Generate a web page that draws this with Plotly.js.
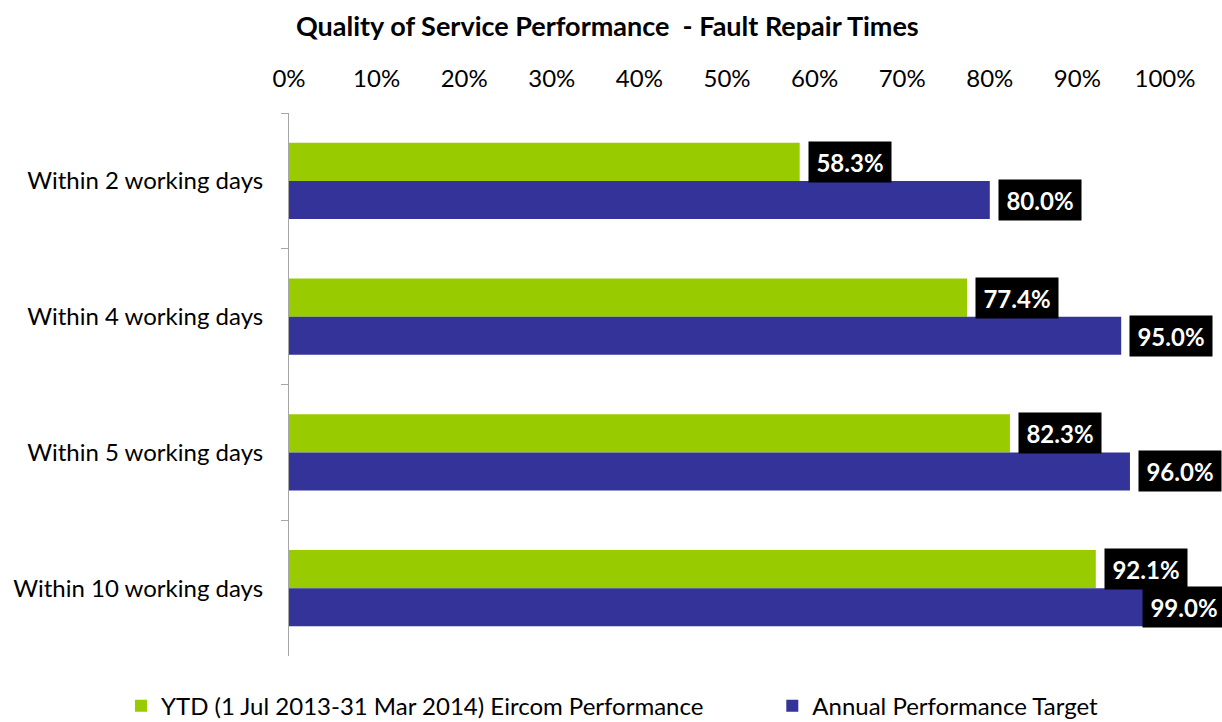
<!DOCTYPE html>
<html>
<head>
<meta charset="utf-8">
<script src="https://cdn.plot.ly/plotly-3.0.1.min.js"></script>
<style>html,body{margin:0;padding:0;background:#fff;}#chart{width:1222px;height:722px;}</style>
</head>
<body>
<div id="chart"></div>
<script>
var categories = ["Within 2 working days", "Within 4 working days", "Within 5 working days", "Within 10 working days"];
var ytdValues = [0.583, 0.774, 0.823, 0.921];
var targetValues = [0.80, 0.95, 0.96, 0.99];
var seriesNames = ["YTD (1 Jul 2013-31 Mar 2014) Eircom Performance", "Annual Performance Target"];
var tickValues = [0, 0.1, 0.2, 0.3, 0.4, 0.5, 0.6, 0.7, 0.8, 0.9, 1.0];

var FONT = "Lato, 'Open Sans', sans-serif";
var bargap = 0.44;
var barW = (1 - bargap) / 2;

var traces = [
  {type: "bar", orientation: "h", name: seriesNames[0], y: categories, x: ytdValues,
   marker: {color: "#99CC00"}, hoverinfo: "x+y", legend: "legend"},
  {type: "bar", orientation: "h", name: seriesNames[1], y: categories, x: targetValues,
   marker: {color: "#333399"}, hoverinfo: "x+y", legend: "legend2"}
];

var annotations = [];
[ytdValues, targetValues].forEach(function (vals, s) {
  vals.forEach(function (v, i) {
    annotations.push({
      x: v, y: i + (s === 0 ? -barW / 2 : barW / 2), xref: "x", yref: "y",
      text: "<b>" + (v * 100).toFixed(1) + "%</b>",
      showarrow: false, xanchor: "left", yanchor: "middle",
      xshift: v > 0.97 ? -14 : 8,
      width: 70, height: 28, align: "center",
      bgcolor: "#000000", borderpad: 6,
      font: {family: FONT, size: 24, color: "#ffffff"}
    });
  });
});

var legendFont = {family: FONT, size: 24, color: "#000"};

var layout = {
  width: 1222, height: 722,
  paper_bgcolor: "#ffffff", plot_bgcolor: "#ffffff",
  margin: {l: 289, r: 57, t: 113, b: 66},
  barmode: "group", bargap: bargap, bargroupgap: 0,
  showlegend: true,
  title: {text: "<b>Quality of Service Performance  - Fault Repair Times</b>",
          font: {family: FONT, size: 27, color: "#000"}, x: 0.497, xref: "container", y: 0.963, yanchor: "middle"},
  xaxis: {side: "top", range: [0, 1], tickvals: tickValues, tickformat: ".0%",
          showgrid: false, zeroline: false, showline: false, ticks: "",
          ticklabelstandoff: 20,
          tickfont: {family: FONT, size: 24, color: "#000"}, fixedrange: true},
  yaxis: {type: "category", autorange: "reversed", showgrid: false, zeroline: false,
          showline: true, linecolor: "#a6a6a6", linewidth: 1,
          ticks: "outside", tickson: "boundaries", ticklen: 7, tickcolor: "#a6a6a6",
          tickfont: {family: FONT, size: 24, color: "#000"}, ticklabelstandoff: 20},
  legend: {orientation: "h", xref: "container", yref: "container", x: 0.099, xanchor: "left",
           y: 0.022, yanchor: "middle", itemwidth: 30, font: legendFont},
  legend2: {orientation: "h", xref: "container", yref: "container", x: 0.632, xanchor: "left",
           y: 0.022, yanchor: "middle", itemwidth: 30, font: legendFont},
  annotations: annotations
};

Plotly.newPlot("chart", traces, layout, {displayModeBar: false, responsive: false});
</script>
</body>
</html>
